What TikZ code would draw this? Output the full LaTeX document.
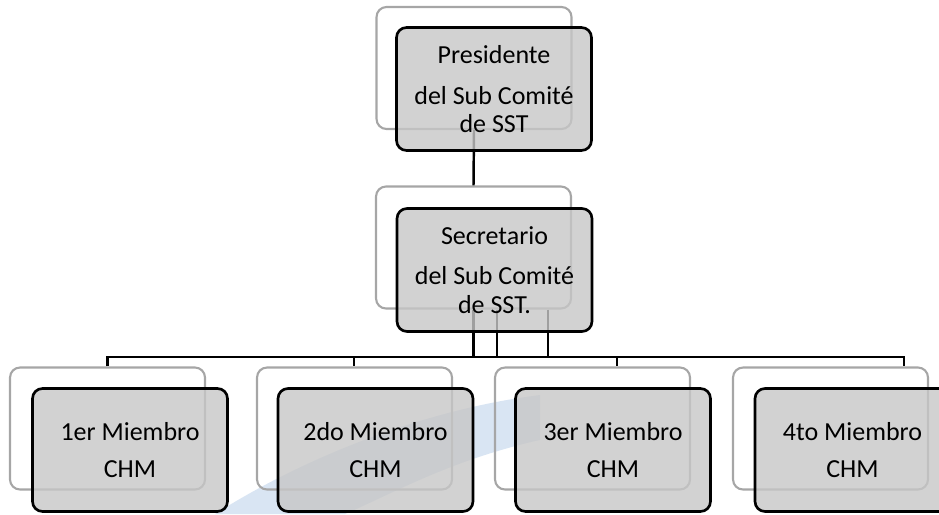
\documentclass[tikz,border=0pt]{standalone}
\usepackage{fontspec}
\setmainfont{Carlito}
\definecolor{wmblue}{RGB}{208,222,240}

\begin{document}
\begin{tikzpicture}[x=0.02cm,y=-0.02cm,
		backbox/.style={draw=black!35,line width=1.2pt,rounded corners=0.2cm,minimum width=3.9cm,minimum height=2.44cm,inner sep=0pt},
		frontbox/.style={draw=black,line width=1.5pt,rounded corners=0.2cm,fill=black!22,fill opacity=0.8,text opacity=1,minimum width=3.9cm,minimum height=2.46cm,inner sep=0pt,align=center,font=\fontsize{14.8}{16}\selectfont},
		link/.style={draw=black,line width=1.4pt}]
			\useasboundingbox (0,0) rectangle (939,514);
			\clip (0,0) rectangle (939,514);
			% faint watermark behind the chart
			\fill[wmblue,opacity=0.8] (215,514) .. controls (300,460) and (420,410) .. (540,395) -- (540,440) .. controls (450,460) and (390,495) .. (345,514) -- cycle;
			% back frames
			\draw (474,68) node [backbox] (presb) {};
			\draw (473.5,247.5) node [backbox] (secb) {};
			\draw (107.5,428.5) node [backbox] (m1b) {};
			\draw (354.5,428.5) node [backbox] (m2b) {};
			\draw (592.5,428.5) node [backbox] (m3b) {};
			\draw (830.5,428.5) node [backbox] (m4b) {};
			% bus
			\coordinate (j1) at (107.5,357);
			\coordinate (j2) at (354,357);
			\coordinate (j3) at (617,357);
			\coordinate (j4) at (904,357);
			\coordinate (s1) at (473.5,357);
			\coordinate (s2) at (497,357);
			\coordinate (s3) at (548,357);
			\draw[link] (presb.south) -- (secb.north);
			\draw[link] (j1 |- m1b.north) -- (j1) -- (j4) -- (j4 |- m4b.north);
			\draw[link] (j2) -- (j2 |- m2b.north);
			\draw[link] (j3) -- (j3 |- m3b.north);
			\draw[link] (secb.south) -- (s1);
			\draw[link] (s2 |- secb.south) -- (s2);
			\draw[link] (s3 |- secb.south) -- (s3);
			% front boxes
			\draw (494,89) node [frontbox] (pres) {Presidente\\[7pt] del Sub Comité\\ de SST};
			\draw (494.5,270) node [frontbox] (sec) {Secretario\\[7pt] del Sub Comité\\ de SST.};
			\draw (130,450) node [frontbox] (m1) {1er Miembro\\[5.5pt] CHM};
			\draw (375.5,450) node [frontbox] (m2) {2do Miembro\\[5.5pt] CHM};
			\draw (613,450) node [frontbox] (m3) {3er Miembro\\[5.5pt] CHM};
			\draw (852.5,450) node [frontbox] (m4) {4to Miembro\\[5.5pt] CHM};
		\end{tikzpicture}
\end{document}
